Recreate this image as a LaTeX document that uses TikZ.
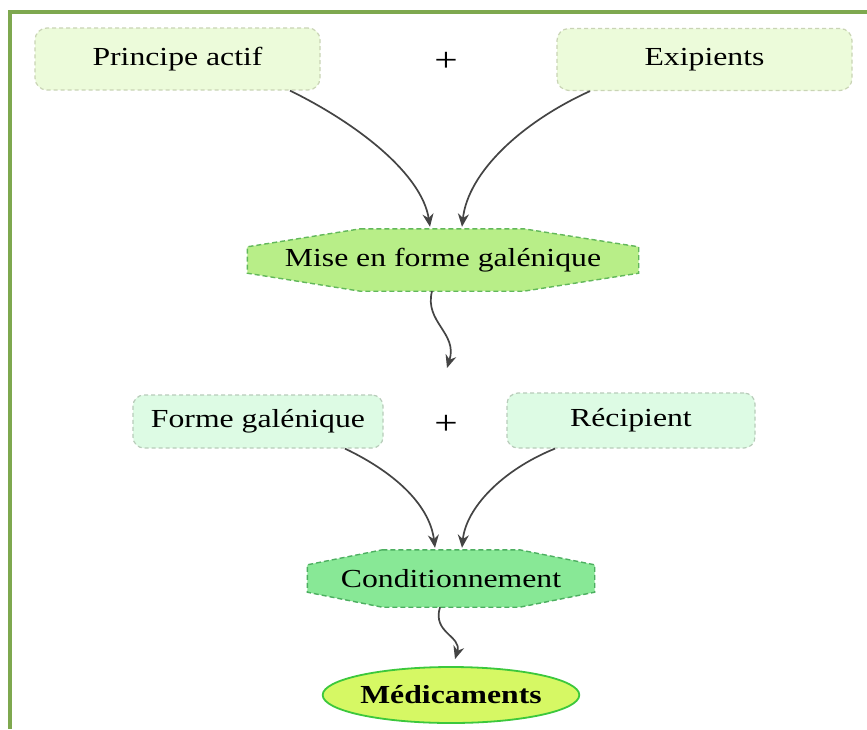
\documentclass[tikz,border=0pt]{standalone}
\usepackage{fontspec}
\setmainfont{Liberation Serif}[FakeStretch=1.22]
\usetikzlibrary{backgrounds,arrows.meta,shapes.geometric}
\definecolor{frame}{HTML}{7EA84F}
\definecolor{topfill}{HTML}{ECFBDA}
\definecolor{topline}{HTML}{C9D4B5}
\definecolor{midfill}{HTML}{DDFBE4}
\definecolor{midline}{HTML}{B8CCBA}
\definecolor{misefill}{HTML}{B8EE88}
\definecolor{miseline}{HTML}{62B85A}
\definecolor{condfill}{HTML}{88E896}
\definecolor{condline}{HTML}{4CAF60}
\definecolor{medfill}{HTML}{D6F864}
\definecolor{medline}{HTML}{3CC83C}
\definecolor{arr}{HTML}{444444}
\tikzset{
  lbl/.style={font=\fontsize{26}{30}\selectfont, text=black, inner sep=0pt},
  topbox/.style={lbl, draw=topline, fill=topfill, dash pattern=on 4pt off 3pt, line width=1.2pt, rounded corners=12pt},
  midbox/.style={lbl, draw=midline, fill=midfill, dash pattern=on 4pt off 3pt, line width=1.2pt, rounded corners=11pt},
  procbox/.style={lbl, rectangle},
  medbox/.style={lbl, ellipse, draw=medline, fill=medfill, line width=1.8pt, font=\fontsize{26}{30}\selectfont\bfseries},
  conn/.style={draw=arr, line width=1.7pt, -{Stealth[length=13pt,width=11pt]}},
  plus/.style={lbl, font=\fontsize{34}{36}\selectfont}
}
\begin{document}
\begin{tikzpicture}[x=1pt,y=-1pt]
\useasboundingbox (0,0) rectangle (867,729);

\node[topbox, minimum width=285pt, minimum height=62pt] (pa) at (177.5,59) {Principe actif};
\node[topbox, minimum width=295pt, minimum height=62pt] (ex) at (704.5,59.5) {Exipients};
\node[plus] (plus1) at (446,62) {+};

\node[procbox, minimum width=391pt, minimum height=62pt] (mise) at (443,260) {Mise en forme galénique};

\node[midbox, minimum width=250pt, minimum height=53pt] (fg) at (258,421.5) {Forme galénique};
\node[midbox, minimum width=248pt, minimum height=55pt] (rec) at (631,420.5) {Récipient};
\node[plus] (plus2) at (446,425) {+};

\node[procbox, minimum width=287pt, minimum height=57pt] (cond) at (451,578.5) {Conditionnement};

\node[medbox, minimum width=243pt, minimum height=56pt] (med) at (451,695) {Médicaments};

\coordinate (m1) at (447,368);

\begin{scope}[on background layer]
\fill[white] (0,0) rectangle (867,729);
\draw[frame, line width=3.5pt] (867,12) -- (10,12) -- (10,729);
\draw[miseline, fill=misefill, dash pattern=on 5pt off 3pt, line width=1.4pt]
  ([xshift=113pt]mise.north west) -- ([xshift=-115pt]mise.north east)
  -- ([yshift=-18pt]mise.north east) -- ([yshift=18pt]mise.south east)
  -- ([xshift=-115pt]mise.south east) -- ([xshift=113pt]mise.south west)
  -- ([yshift=18pt]mise.south west) -- ([yshift=-18pt]mise.north west) -- cycle;
\draw[condline, fill=condfill, dash pattern=on 5pt off 3pt, line width=1.4pt]
  ([xshift=75pt]cond.north west) -- ([xshift=-75pt]cond.north east)
  -- ([yshift=-15pt]cond.north east) -- ([yshift=15pt]cond.south east)
  -- ([xshift=-75pt]cond.south east) -- ([xshift=75pt]cond.south west)
  -- ([yshift=15pt]cond.south west) -- ([yshift=-15pt]cond.north west) -- cycle;
\end{scope}

\draw[conn] ([xshift=112.5pt]pa.south) .. controls (360,125) and (422,175) .. ([xshift=-13pt,yshift=2pt]mise.north);
\draw[conn] ([xshift=-114.5pt]ex.south) .. controls (522,122) and (468,172) .. ([xshift=19pt,yshift=2pt]mise.north);
\draw[conn] ([xshift=-11pt]mise.south) .. controls (424,322) and (458,333) .. (m1);
\draw[conn] ([xshift=87pt]fg.south) .. controls (400,475) and (430,508) .. ([xshift=-16pt,yshift=2pt]cond.north);
\draw[conn] ([xshift=-76pt]rec.south) .. controls (502,470) and (466,508) .. ([xshift=11pt,yshift=2pt]cond.north);
\draw[conn] ([xshift=-11pt]cond.south) .. controls (432,633) and (462,636) .. ([xshift=4pt,yshift=7pt]med.north);
\end{tikzpicture}
\end{document}
